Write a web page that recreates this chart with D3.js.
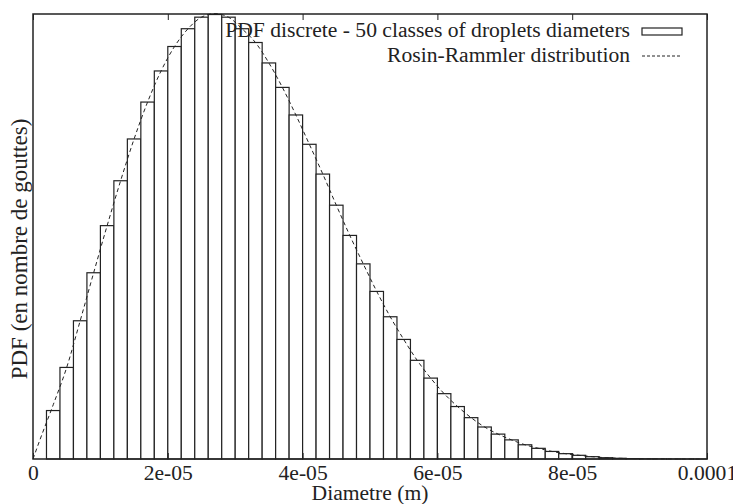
<!DOCTYPE html>
<html>
<head>
<meta charset="utf-8">
<script src="https://cdn.jsdelivr.net/npm/d3@7"></script>
<style>
  body { margin: 0; background: #fff; }
  text { font-family: "Liberation Serif", "Times New Roman", serif; fill: #222; }
</style>
</head>
<body>
<div id="chart"></div>
<script>
// 50 classes of droplet diameters, width 2e-06 m each
const classWidth = 2e-6;
const pdfValues = [
    0, 0.109, 0.206, 0.311, 0.419, 0.525, 0.626, 0.720, 0.803, 0.873,
    0.928, 0.968, 0.994, 1.000, 0.994, 0.968, 0.937, 0.891, 0.836, 0.774,
    0.708, 0.641, 0.571, 0.503, 0.439, 0.377, 0.320, 0.269, 0.222, 0.182,
    0.147, 0.118, 0.093, 0.072, 0.056, 0.043, 0.032, 0.024, 0.017, 0.012,
    0.0083, 0.0052, 0.0029, 0.0016, 0.0009, 0.0005, 0.0003, 0.0001, 0.00005, 0.00002
];

// Rosin-Rammler curve, points (diameter in micrometres)
const curveDiam = [0, 1, 3, 5, 7, 9, 11, 13, 15, 17, 19, 21, 23, 25, 27, 29, 31, 33, 35, 37,
    39, 41, 43, 45, 47, 49, 51, 53, 55, 57, 59, 61, 63, 65, 67, 69, 71, 73, 75, 77,
    79, 81, 83, 85, 87, 89, 91, 93, 95, 97, 99];
const curvePdf = [0, 0.042, 0.122, 0.206, 0.311, 0.419, 0.525, 0.626, 0.720, 0.803, 0.873,
    0.928, 0.968, 0.994, 1.002, 0.994, 0.968, 0.937, 0.891, 0.836, 0.774,
    0.708, 0.641, 0.571, 0.503, 0.439, 0.377, 0.320, 0.269, 0.222, 0.182,
    0.147, 0.118, 0.093, 0.072, 0.056, 0.043, 0.032, 0.024, 0.017, 0.012,
    0.0083, 0.0052, 0.0029, 0.0016, 0.0009, 0.0005, 0.0003, 0.0001, 0.00005, 0.00002];

const xTickValues = [0, 2e-5, 4e-5, 6e-5, 8e-5, 1e-4];
const xTickLabels = ["0", "2e-05", "4e-05", "6e-05", "8e-05", "0.0001"];

const legendLabels = ["PDF discrete - 50 classes of droplets diameters", "Rosin-Rammler distribution"];

class HistoPlot {
    constructor(element) {
        this.parentElement = element;
        this.initVis();
    }

    initVis() {
        const vis = this;

        vis.MARGIN = { LEFT: 33, RIGHT: 26, TOP: 14, BOTTOM: 45 };
        vis.WIDTH = 733 - vis.MARGIN.LEFT - vis.MARGIN.RIGHT;
        vis.HEIGHT = 504 - vis.MARGIN.TOP - vis.MARGIN.BOTTOM;
        vis.FONT = "21.6px";

        vis.root = d3.select(vis.parentElement).append("svg")
            .attr("width", 733)
            .attr("height", 504);

        vis.svg = vis.root.append("g")
            .attr("transform", `translate(${vis.MARGIN.LEFT}, ${vis.MARGIN.TOP})`);

        vis.x = d3.scaleLinear().domain([0, 1e-4]).range([0, vis.WIDTH]);
        vis.y = d3.scaleLinear().domain([0, 1.0]).range([vis.HEIGHT, 0.5]);

        // bars
        vis.svg.selectAll(".bar")
            .data(pdfValues)
            .join("rect")
            .attr("class", "bar")
            .attr("x", (d, i) => vis.x(i * classWidth))
            .attr("y", d => vis.y(d))
            .attr("width", vis.x(classWidth) - vis.x(0))
            .attr("height", d => vis.HEIGHT - vis.y(d))
            .attr("fill", "#fff")
            .attr("stroke", "#222")
            .attr("stroke-width", 1.2);

        // Rosin-Rammler curve
        const line = d3.line()
            .x((d, i) => vis.x(curveDiam[i] * 1e-6))
            .y(d => vis.y(d))
            .curve(d3.curveMonotoneX);

        vis.svg.append("path")
            .datum(curvePdf)
            .attr("d", line)
            .attr("fill", "none")
            .attr("stroke", "#222")
            .attr("stroke-width", 1)
            .attr("stroke-dasharray", "4,3");

        // frame
        vis.svg.append("rect")
            .attr("width", vis.WIDTH)
            .attr("height", vis.HEIGHT)
            .attr("fill", "none")
            .attr("stroke", "#222")
            .attr("stroke-width", 1.5);

        // x axis (ticks inside, mirrored on top)
        const xAxis = d3.axisBottom(vis.x)
            .tickValues(xTickValues)
            .tickFormat((d, i) => xTickLabels[i])
            .tickSizeInner(-6)
            .tickSizeOuter(0)
            .tickPadding(6);

        vis.xAxisGroup = vis.svg.append("g")
            .attr("transform", `translate(0, ${vis.HEIGHT})`)
            .call(xAxis);
        vis.xAxisGroup.select(".domain").remove();
        vis.xAxisGroup.selectAll("line").attr("stroke", "#222");
        vis.xAxisGroup.selectAll("text")
            .style("font-family", "'Liberation Serif', serif")
            .style("font-size", vis.FONT)
            .attr("fill", "#222");

        vis.svg.append("g")
            .call(d3.axisTop(vis.x).tickValues(xTickValues).tickFormat("").tickSizeInner(-6).tickSizeOuter(0))
            .call(g => g.select(".domain").remove())
            .selectAll("line").attr("stroke", "#222");

        // legend
        const legendRight = 630 - vis.MARGIN.LEFT;
        vis.svg.append("text")
            .attr("x", legendRight)
            .attr("y", 22.7)
            .attr("text-anchor", "end")
            .style("font-size", vis.FONT)
            .text(legendLabels[0]);
        vis.svg.append("rect")
            .attr("x", 642 - vis.MARGIN.LEFT)
            .attr("y", 14)
            .attr("width", 40)
            .attr("height", 7)
            .attr("fill", "#fff")
            .attr("stroke", "#222")
            .attr("stroke-width", 1.2);

        vis.svg.append("text")
            .attr("x", legendRight)
            .attr("y", 48.3)
            .attr("text-anchor", "end")
            .style("font-size", vis.FONT)
            .text(legendLabels[1]);
        vis.svg.append("line")
            .attr("x1", 642 - vis.MARGIN.LEFT)
            .attr("x2", 682 - vis.MARGIN.LEFT)
            .attr("y1", 42)
            .attr("y2", 42)
            .attr("stroke", "#222")
            .attr("stroke-width", 1)
            .attr("stroke-dasharray", "3,2");

        // X Axis Title
        vis.root.append("text")
            .attr("x", 370)
            .attr("y", 500)
            .attr("text-anchor", "middle")
            .style("font-size", vis.FONT)
            .text("Diametre (m)");

        // Y Axis Title
        vis.root.append("text")
            .attr("transform", "rotate(-90)")
            .attr("x", -249)
            .attr("y", 27)
            .attr("text-anchor", "middle")
            .style("font-size", "23px")
            .text("PDF (en nombre de gouttes)");
    }
}

new HistoPlot("#chart");
</script>
</body>
</html>
